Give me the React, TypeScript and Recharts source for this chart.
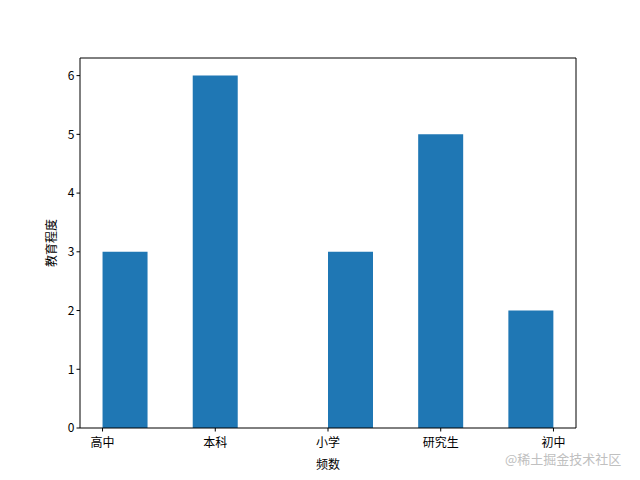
import React from 'react';
import { ComposedChart, Bar, XAxis, YAxis, ReferenceLine } from 'recharts';

// histogram bins (centers, in category-index units) and counts
const binCenters = [0.2, 0.6, 1.0, 1.4, 1.8, 2.2, 2.6, 3.0, 3.4, 3.8];
const binCounts = [3, 0, 6, 0, 0, 3, 0, 5, 0, 2];
const categories = ['高中', '本科', '小学', '研究生', '初中'];
const categoryTicks = [0, 1, 2, 3, 4];
const yTicks = [0, 1, 2, 3, 4, 5, 6];
const xDomain: [number, number] = [-0.2, 4.2];
const yDomain: [number, number] = [0, 6.3];

const data = binCenters.map((x, i) => ({ x, count: binCounts[i] }));

const FONT = '"Noto Sans CJK SC", "DejaVu Sans", sans-serif';

const YLabel = (props: any) => {
  const vb = props.viewBox || {};
  const cx = (vb.x ?? 0) + 50;
  const cy = (vb.y ?? 0) + (vb.height ?? 0) / 2;
  return (
    <text
      x={cx}
      y={cy}
      transform={`rotate(-90, ${cx}, ${cy})`}
      textAnchor="middle"
      dominantBaseline="central"
      fill="#000"
      fontSize={12}
      fontFamily={FONT}
    >
      教育程度
    </text>
  );
};

export default function App() {
  return (
    <div style={{ position: 'absolute', left: 0, top: 0, width: 640, height: 480, background: '#fff', fontFamily: FONT }}>
      <ComposedChart
        width={640}
        height={480}
        data={data}
        margin={{ top: 58, right: 64, bottom: 22, left: 0 }}
        barCategoryGap={0}
        barGap={0}
      >
        <XAxis
          dataKey="x"
          type="number"
          domain={xDomain}
          ticks={categoryTicks}
          tickFormatter={(v: number) => categories[v] ?? ''}
          interval={0}
          height={30}
          tickSize={3.5}
          axisLine={{ stroke: '#000', strokeWidth: 1 }}
          tickLine={{ stroke: '#000' }}
          tick={{ fill: '#000', fontSize: 12, fontFamily: FONT, dy: 5 }}
          label={{ value: '频数', position: 'insideBottom', offset: -11, fill: '#000', fontSize: 12, fontFamily: FONT }}
          allowDataOverflow
        />
        <YAxis
          type="number"
          domain={yDomain}
          ticks={yTicks}
          width={80}
          tickSize={3.5}
          axisLine={{ stroke: '#000', strokeWidth: 1 }}
          tickLine={{ stroke: '#000' }}
          tick={{ fill: '#000', fontSize: 12, fontFamily: FONT }}
          label={<YLabel />}
          allowDataOverflow
        />
        <Bar dataKey="count" fill="#1f77b4" barSize={45} isAnimationActive={false} />
        <ReferenceLine y={yDomain[1]} stroke="#000" strokeWidth={1} ifOverflow="visible" />
        <ReferenceLine x={xDomain[1]} stroke="#000" strokeWidth={1} ifOverflow="visible" />
      </ComposedChart>
      <div
        style={{
          position: 'absolute',
          left: 505,
          top: 449,
          fontSize: 13,
          color: '#c0c0c0',
          fontFamily: FONT,
          whiteSpace: 'nowrap',
        }}
      >
        @稀土掘金技术社区
      </div>
    </div>
  );
}
